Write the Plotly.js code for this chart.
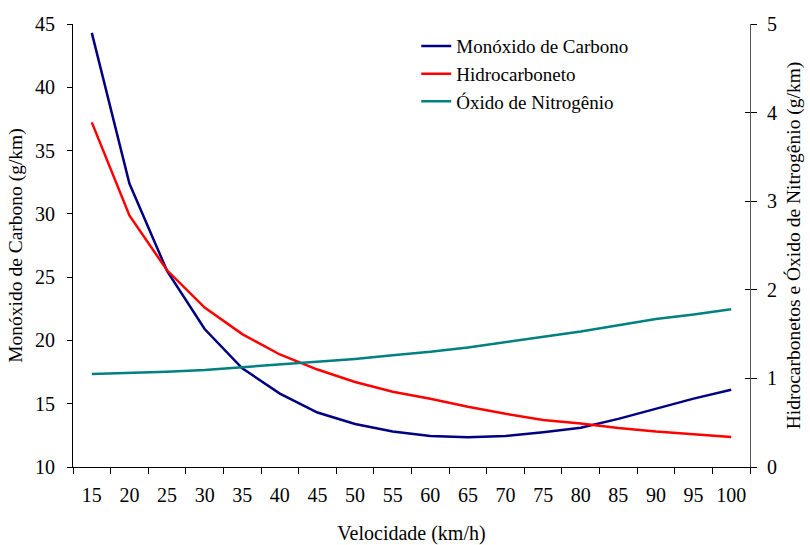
<!DOCTYPE html>
<html>
<head>
<meta charset="utf-8">
<script src="https://cdn.plot.ly/plotly-3.0.1.min.js"></script>
<style>html,body{margin:0;padding:0;background:#fff;}#chart{width:810px;height:545px;}</style>
</head>
<body>
<div id="chart"></div>
<script>
const velocidade = ['15','20','25','30','35','40','45','50','55','60','65','70','75','80','85','90','95','100'];
const monoxidoCarbono = [44.3, 32.4, 25.5, 20.9, 17.8, 15.8, 14.3, 13.4, 12.8, 12.45, 12.35, 12.45, 12.75, 13.1, 13.8, 14.6, 15.4, 16.1];
const hidrocarboneto = [3.89, 2.84, 2.22, 1.80, 1.50, 1.27, 1.10, 0.96, 0.85, 0.77, 0.68, 0.60, 0.53, 0.49, 0.44, 0.40, 0.37, 0.34];
const oxidoNitrogenio = [1.05, 1.06, 1.075, 1.095, 1.125, 1.155, 1.185, 1.22, 1.26, 1.30, 1.35, 1.41, 1.47, 1.53, 1.60, 1.67, 1.72, 1.78];
const leftTicks = [10, 15, 20, 25, 30, 35, 40, 45];
const rightTicks = [0, 1, 2, 3, 4, 5];

const FONT = 'Liberation Serif';
const PAD = '\u00a0'.repeat(7);

const traces = [
  {x: velocidade, y: monoxidoCarbono, type: 'scatter', mode: 'lines', name: 'Monóxido de Carbono',
   line: {color: '#000080', width: 2.5}, yaxis: 'y', legendgroup: 'a'},
  {x: velocidade, y: hidrocarboneto, type: 'scatter', mode: 'lines', name: 'Hidrocarboneto',
   line: {color: '#ff0000', width: 2.5}, yaxis: 'y2', legendgroup: 'b'},
  {x: velocidade, y: oxidoNitrogenio, type: 'scatter', mode: 'lines', name: 'Óxido de Nitrogênio',
   line: {color: '#008080', width: 2.5}, yaxis: 'y2', legendgroup: 'c'},
  {x: [velocidade[0]], y: [null], type: 'scatter', mode: 'lines', yaxis: 'y3', showlegend: false, hoverinfo: 'skip'}
];

const layout = {
  width: 810, height: 545,
  margin: {l: 73, r: 60, t: 24, b: 78, pad: 0},
  paper_bgcolor: '#ffffff', plot_bgcolor: '#ffffff',
  font: {family: FONT, color: '#000000', size: 20},
  showlegend: true,
  legend: {x: 0.507, y: 0.993, xanchor: 'left', yanchor: 'top', bgcolor: 'rgba(0,0,0,0)',
           font: {family: FONT, size: 19, color: '#000'}, traceorder: 'grouped', tracegroupgap: 0},
  xaxis: {type: 'category', range: [-0.5, 17.5], tickson: 'boundaries', ticks: 'outside', ticklen: 6,
          tickangle: 0, tickcolor: '#000', showline: true, linecolor: '#000', linewidth: 1, showgrid: false, zeroline: false,
          tickfont: {family: FONT, size: 20}, ticklabelstandoff: 10,
          title: {text: 'Velocidade (km/h)', font: {family: FONT, size: 20}, standoff: 20}},
  yaxis: {range: [10, 45], tickvals: leftTicks, ticks: 'outside', ticklen: 5, tickcolor: '#000',
          showline: true, linecolor: '#000', linewidth: 1, showgrid: false, zeroline: false,
          tickfont: {family: FONT, size: 20}, ticklabelstandoff: 8,
          title: {text: 'Monóxido de Carbono (g/km)' + PAD, font: {family: FONT, size: 19.5}, standoff: 7}},
  yaxis2: {range: [0, 5], tickvals: rightTicks, overlaying: 'y', side: 'right', anchor: 'x',
           ticks: 'outside', ticklen: 6, tickcolor: '#000', showline: true, linecolor: '#555', linewidth: 1,
           showgrid: false, zeroline: false, tickfont: {family: FONT, size: 20}, ticklabelstandoff: 6,
           title: {text: 'Hidrocarbonetos e Óxido de Nitrogênio (g/km)' + PAD, font: {family: FONT, size: 19.5}, standoff: 10}},
  yaxis3: {range: [0, 5], tickvals: rightTicks, overlaying: 'y', side: 'right', anchor: 'x',
           ticks: 'inside', ticklen: 5, tickcolor: '#000', showline: false, showgrid: false, zeroline: false,
           showticklabels: false}
};

Plotly.newPlot('chart', traces, layout, {staticPlot: true, displayModeBar: false});
</script>
</body>
</html>
